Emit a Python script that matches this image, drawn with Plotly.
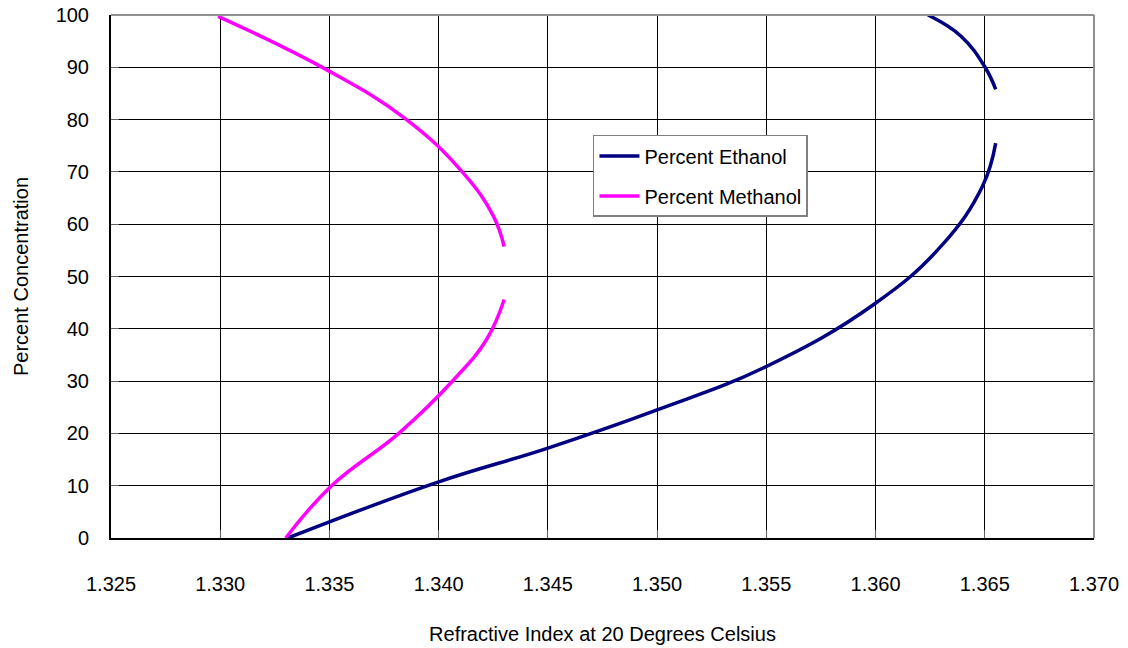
import plotly.graph_objects as go

# Percent Ethanol (two drawn segments, gap between them)
eth_x_low = [1.3331, 1.3399, 1.3450, 1.3500, 1.3550, 1.3599, 1.3630, 1.3649, 1.3655]
eth_y_low = [0, 10.6, 17.2, 24.5, 32.8, 44.6, 55.8, 67.3, 75.5]
eth_x_high = [1.3655, 1.3650, 1.3639, 1.3624]
eth_y_high = [85.8, 90.1, 96.0, 100]

# Percent Methanol
met_x_low = [1.3330, 1.3351, 1.3382, 1.3407, 1.3422, 1.3430]
met_y_low = [0, 10.0, 20.1, 30.3, 38.0, 45.6]
met_x_high = [1.3430, 1.3425, 1.3411, 1.3385, 1.3348, 1.3299]
met_y_high = [55.7, 61.6, 69.9, 80.1, 89.7, 99.75]

x_ticks = [1.325, 1.330, 1.335, 1.340, 1.345, 1.350, 1.355, 1.360, 1.365, 1.370]
x_tick_text = ["1.325", "1.330", "1.335", "1.340", "1.345", "1.350", "1.355", "1.360", "1.365", "1.370"]
y_ticks = [0, 10, 20, 30, 40, 50, 60, 70, 80, 90, 100]

NAVY = "#000080"
MAGENTA = "#FF00FF"
FONT = "Liberation Sans, Arial, sans-serif"
LW = 3.5
SM = 1.2

fig = go.Figure()
fig.add_trace(go.Scatter(x=eth_x_low, y=eth_y_low, mode="lines", name="Percent Ethanol",
                         line=dict(color=NAVY, width=LW, shape="spline", smoothing=SM),
                         legendgroup="eth"))
fig.add_trace(go.Scatter(x=eth_x_high, y=eth_y_high, mode="lines", name="Percent Ethanol",
                         line=dict(color=NAVY, width=LW, shape="spline", smoothing=SM),
                         legendgroup="eth", showlegend=False))
fig.add_trace(go.Scatter(x=met_x_high, y=met_y_high, mode="lines", name="Percent Methanol",
                         line=dict(color=MAGENTA, width=LW, shape="spline", smoothing=SM),
                         legendgroup="met"))
fig.add_trace(go.Scatter(x=met_x_low, y=met_y_low, mode="lines", name="Percent Methanol",
                         line=dict(color=MAGENTA, width=LW, shape="spline", smoothing=SM),
                         legendgroup="met", showlegend=False))

# gray plot-area frame on top and right
fig.add_shape(type="line", xref="paper", yref="paper", x0=0, y0=1, x1=1, y1=1,
              line=dict(color="#909090", width=2), layer="above")
fig.add_shape(type="line", xref="paper", yref="paper", x0=1, y0=0, x1=1, y1=1,
              line=dict(color="#909090", width=2), layer="above")

fig.update_layout(
    width=1128, height=648,
    margin=dict(l=111, r=34, t=15, b=110, autoexpand=False),
    paper_bgcolor="white", plot_bgcolor="white",
    font=dict(family=FONT, size=20, color="black"),
    showlegend=True,
    legend=dict(x=0.4903, y=0.7706, xanchor="left", yanchor="top",
                bgcolor="white", bordercolor="#808080", borderwidth=1.5,
                font=dict(family=FONT, size=20, color="black"),
                tracegroupgap=11, itemwidth=40),
)
fig.update_xaxes(range=[1.325, 1.370], tickvals=x_ticks, ticktext=x_tick_text,
                 showgrid=True, gridcolor="black", gridwidth=1,
                 showline=True, linecolor="black", linewidth=2,
                 ticks="inside", ticklen=8, tickcolor="#606060",
                 ticklabelstandoff=27, zeroline=False, automargin=False,
                 ticklabeloverflow="allow",
                 tickfont=dict(family=FONT, size=20),
                 title=dict(text="Refractive Index at 20 Degrees Celsius",
                            font=dict(family=FONT, size=20), standoff=33))
fig.update_yaxes(range=[0, 100], tickvals=y_ticks,
                 showgrid=True, gridcolor="black", gridwidth=1,
                 showline=True, linecolor="black", linewidth=2,
                 ticks="inside", ticklen=8, tickcolor="#606060",
                 ticklabelstandoff=16, zeroline=False, automargin=False,
                 ticklabeloverflow="allow",
                 tickfont=dict(family=FONT, size=20),
                 title=dict(text="Percent Concentration",
                            font=dict(family=FONT, size=20), standoff=22))

fig.write_html("out.html", config={"displayModeBar": False},
               post_script="document.body.style.margin='0px';")
